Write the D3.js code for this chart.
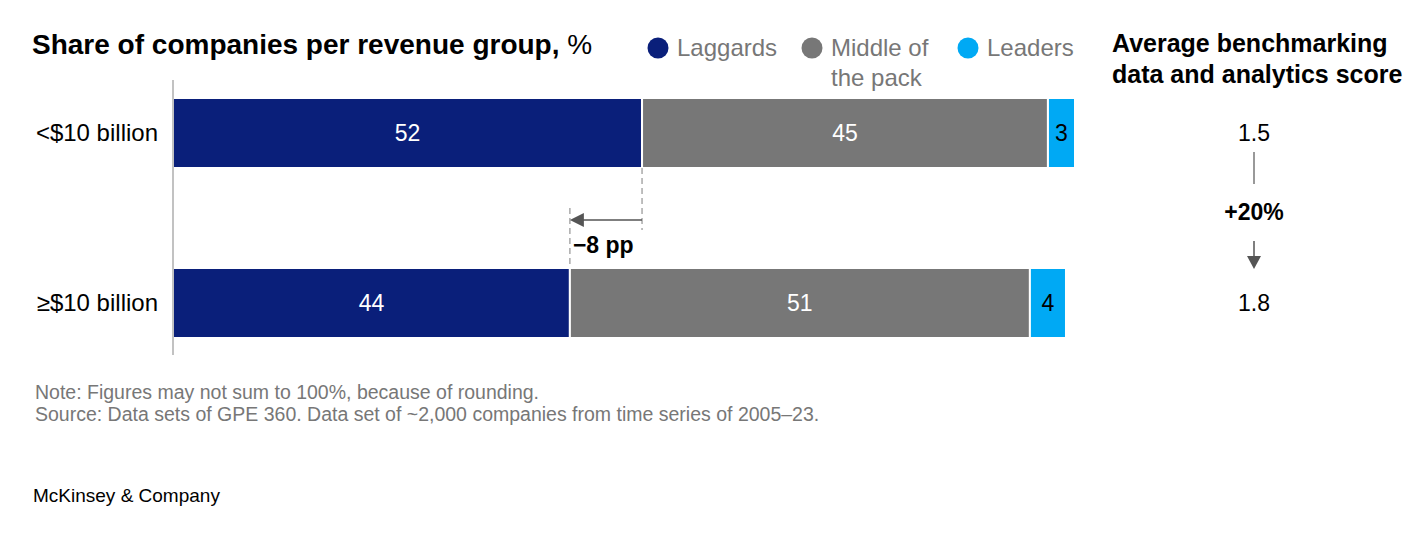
<!DOCTYPE html>
<html>
<script src="https://d3js.org/d3.v7.min.js"></script>
<head>
<style>
    body { margin: 0; background: #fff; }
    text { font-family: "Liberation Sans", Arial, sans-serif; }
</style>
</head>
<body>
<div id="my_dataviz"></div>
<script>

    // data
    var groups = ["<$10 billion", "\u2265$10 billion"]
    var series = ["Laggards", "Middle of the pack", "Leaders"]
    var laggards = [52, 44]
    var middle = [45, 51]
    var leaders = [3, 4]
    var scores = ["1.5", "1.8"]
    var scoreChange = "+20%"
    var gapLabel = "\u22128 pp"

    var colors = ["#0a1f7a", "#777777", "#00a9f4"]

    var svg = d3.select("#my_dataviz")
        .append("svg")
        .attr("width", 1427)
        .attr("height", 536)

    // scales
    var x = d3.scaleLinear()
        .domain([0, 100])
        .range([173, 1075])

    var y = d3.scaleBand()
        .domain(groups)
        .range([98, 338])
        .paddingInner(100 / 170)

    // stack
    var rows = groups.map(function (g, i) {
        return { group: g, Laggards: laggards[i], "Middle of the pack": middle[i], Leaders: leaders[i] }
    })
    var stacked = d3.stack().keys(series)(rows)

    // title
    var title = svg.append("text")
        .attr("x", 32).attr("y", 54)
        .style("font-size", "28px")
        .style("font-weight", "bold")
        .attr("fill", "#000")
    title.append("tspan").text("Share of companies per revenue group, ")
    title.append("tspan").style("font-weight", "normal").text("%")

    // legend
    var legX = [658, 812, 968]
    var legend = svg.selectAll(".leg")
        .data(series)
        .enter()
        .append("g")
        .attr("transform", function (d, i) { return "translate(" + legX[i] + ",48)" })
    legend.append("circle")
        .attr("r", 10.5)
        .attr("fill", function (d, i) { return colors[i] })
    legend.each(function (d) {
        var t = d3.select(this).append("text")
            .attr("x", 19).attr("y", 8)
            .attr("fill", "#777")
            .style("font-size", "24px")
        if (d === "Middle of the pack") {
            t.append("tspan").attr("x", 19).text("Middle of")
            t.append("tspan").attr("x", 19).attr("dy", 30).text("the pack")
        } else {
            t.text(d)
        }
    })

    // bars
    var layer = svg.selectAll(".layer")
        .data(stacked)
        .enter()
        .append("g")
        .attr("fill", function (d, i) { return colors[i] })

    layer.selectAll("rect")
        .data(function (d) { return d })
        .enter()
        .append("rect")
        .attr("x", function (d) { return x(d[0]) })
        .attr("y", function (d) { return y(d.data.group) })
        .attr("width", function (d) { return x(d[1]) - x(d[0]) })
        .attr("height", y.bandwidth())
        .attr("stroke", "#fff")
        .attr("stroke-width", 2)

    layer.each(function (s, si) {
        d3.select(this).selectAll("text.val")
            .data(s)
            .enter()
            .append("text")
            .attr("x", function (d) { return (x(d[0]) + x(d[1])) / 2 })
            .attr("y", function (d) { return y(d.data.group) + y.bandwidth() / 2 + 8 })
            .attr("text-anchor", "middle")
            .style("font-size", "23px")
            .attr("fill", si === 2 ? "#000" : "#fff")
            .text(function (d) { return d[1] - d[0] })
    })

    // axis line
    svg.append("line")
        .attr("x1", x(0)).attr("x2", x(0))
        .attr("y1", 80).attr("y2", 355)
        .attr("stroke", "#999").attr("stroke-width", 1.2)

    // category labels
    svg.selectAll(".cat")
        .data(groups)
        .enter()
        .append("text")
        .attr("x", 158)
        .attr("y", function (d) { return y(d) + y.bandwidth() / 2 + 8 })
        .attr("text-anchor", "end")
        .style("font-size", "24px")
        .attr("fill", "#000")
        .text(function (d) { return d })

    // -8 pp annotation
    var xa = x(laggards[0]), xb = x(laggards[1])
    var y0 = y(groups[0]) + y.bandwidth(), y1 = y(groups[1])
    var ya = 220
    svg.append("line")
        .attr("x1", xa).attr("x2", xa).attr("y1", y0).attr("y2", ya + 10)
        .attr("stroke", "#aaa").attr("stroke-width", 1.5).attr("stroke-dasharray", "6,4")
    svg.append("line")
        .attr("x1", xb).attr("x2", xb).attr("y1", ya - 12).attr("y2", y1)
        .attr("stroke", "#aaa").attr("stroke-width", 1.5).attr("stroke-dasharray", "6,4")
    svg.append("line")
        .attr("x1", xa).attr("x2", xb + 12).attr("y1", ya).attr("y2", ya)
        .attr("stroke", "#555").attr("stroke-width", 1.5)
    svg.append("path")
        .attr("d", "M" + xb + "," + ya + "L" + (xb + 14) + "," + (ya - 7) + "L" + (xb + 14) + "," + (ya + 7) + "Z")
        .attr("fill", "#555")
    svg.append("text")
        .attr("x", xb + 3).attr("y", 253)
        .style("font-size", "23px").style("font-weight", "bold")
        .attr("fill", "#000")
        .text(gapLabel)

    // right panel
    var rt = svg.append("text")
        .attr("x", 1112).attr("y", 52)
        .style("font-size", "25px").style("font-weight", "bold")
        .attr("fill", "#000")
    rt.append("tspan").attr("x", 1112).text("Average benchmarking")
    rt.append("tspan").attr("x", 1112).attr("dy", 31).text("data and analytics score")

    var cx = 1254
    svg.selectAll(".score")
        .data(scores)
        .enter()
        .append("text")
        .attr("x", cx)
        .attr("y", function (d, i) { return y(groups[i]) + y.bandwidth() / 2 + 8 })
        .attr("text-anchor", "middle")
        .style("font-size", "23px")
        .attr("fill", "#000")
        .text(function (d) { return d })
    svg.append("line")
        .attr("x1", cx).attr("x2", cx).attr("y1", 152).attr("y2", 184)
        .attr("stroke", "#777").attr("stroke-width", 1.5)
    svg.append("text")
        .attr("x", cx).attr("y", 220)
        .attr("text-anchor", "middle")
        .style("font-size", "23px").style("font-weight", "bold")
        .attr("fill", "#000")
        .text(scoreChange)
    svg.append("line")
        .attr("x1", cx).attr("x2", cx).attr("y1", 241).attr("y2", 258)
        .attr("stroke", "#555").attr("stroke-width", 1.5)
    svg.append("path")
        .attr("d", "M" + (cx - 7) + ",256L" + (cx + 7) + ",256L" + cx + ",269Z")
        .attr("fill", "#555")

    // notes
    var notes = svg.append("text")
        .attr("x", 35).attr("y", 399)
        .style("font-size", "19.5px")
        .attr("fill", "#777")
    notes.append("tspan").attr("x", 35).text("Note: Figures may not sum to 100%, because of rounding.")
    notes.append("tspan").attr("x", 35).attr("dy", 22).text("Source: Data sets of GPE 360. Data set of ~2,000 companies from time series of 2005\u201323.")

    svg.append("text")
        .attr("x", 33).attr("y", 502)
        .style("font-size", "19px")
        .attr("fill", "#000")
        .text("McKinsey & Company")

</script>
</body>
</html>
